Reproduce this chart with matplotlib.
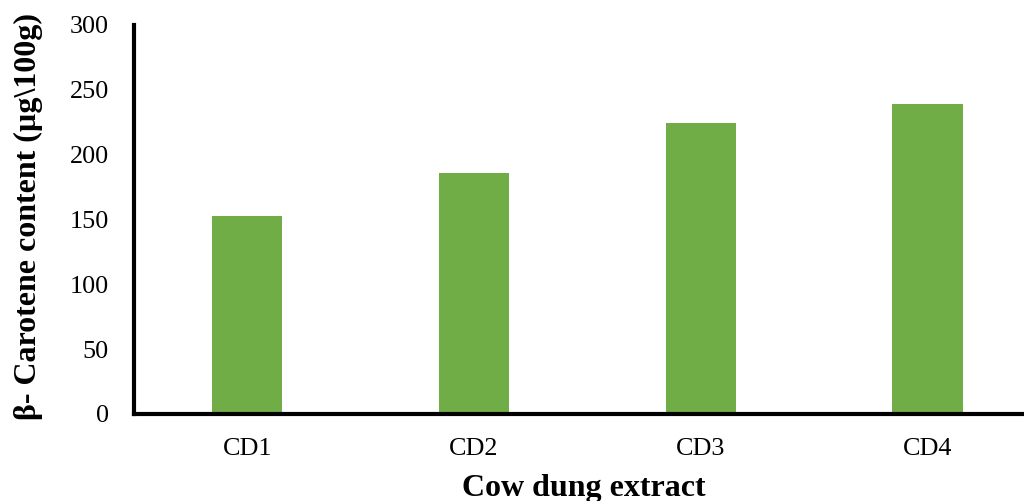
import matplotlib
matplotlib.use("Agg")
import matplotlib.pyplot as plt

# Data
categories = ["CD1", "CD2", "CD3", "CD4"]
carotene = [152.5, 186, 224.5, 239]
y_ticks = [0, 50, 100, 150, 200, 250, 300]

bar_color = "#70AD47"
serif = ["Liberation Serif", "DejaVu Serif"]

fig = plt.figure(figsize=(10.24, 5.01), dpi=100)
# axes: left spine at x=134px, bottom at y=414px, top at y=25px, running off the right edge
W, H = 1024, 501
ax = fig.add_axes([134 / W, (H - 414) / H, (W - 134) / W, (414 - 25) / H])

x = list(range(len(categories)))
ax.bar(x, carotene, width=0.31, color=bar_color, zorder=2)

ax.set_ylim(0, 300)
ax.set_xlim(-0.5, 3.426)
ax.set_yticks(y_ticks)
ax.set_xticks(x)
ax.set_xticklabels(categories)

for s in ["top", "right"]:
    ax.spines[s].set_visible(False)
for s in ["left", "bottom"]:
    ax.spines[s].set_linewidth(3)
    ax.spines[s].set_color("black")

ax.tick_params(axis="both", length=0)
ax.tick_params(axis="y", pad=18)
ax.tick_params(axis="x", pad=17)
for lab in ax.get_xticklabels() + ax.get_yticklabels():
    lab.set_fontfamily(serif)
    lab.set_fontsize(18.8)

ax.set_ylabel("β- Carotene content (µg\\100g)", fontfamily=serif,
              fontsize=23, fontweight="bold")
ax.yaxis.set_label_coords(-(134 - 43) / (W - 134), (414 - 216.5) / 389.0)
ax.set_xlabel("Cow dung extract", fontfamily=serif, fontsize=23,
              fontweight="bold")
ax.xaxis.set_label_coords((584 - 134) / (W - 134), -(496 - 414) / 389.0)
ax.xaxis.label.set_verticalalignment("baseline")

fig.savefig("out.png", dpi=100)
